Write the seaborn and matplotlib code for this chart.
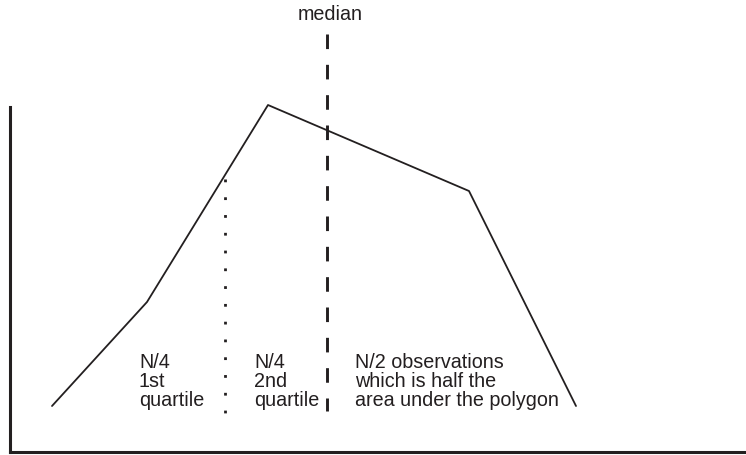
import matplotlib
matplotlib.use("Agg")
import matplotlib.pyplot as plt
import seaborn as sns
import pandas as pd

# frequency polygon (class mark, frequency) in chart units
poly_x = [42, 137, 258, 459, 566]
poly_y = [46, 150, 347, 261, 46]

# quartile / median markers (drawn top to bottom)
q1_x, q1_span = 215, [273, 35]
median_x, median_span = 317, [418, 41]

labels = ["N/4\n1st\nquartile", "N/4\n2nd\nquartile",
          "N/2 observations\nwhich is half the\narea under the polygon"]
label_x = [129, 244, 345]
label_top = 100

ink = "#231f20"

sns.set_style("white")
plt.rcParams['font.family'] = ['Liberation Sans', 'DejaVu Sans']

fig = plt.figure(figsize=(7.46, 4.56), dpi=100)
ax = fig.add_axes([10 / 746, 3 / 456, 736 / 746, 345 / 456])

df = pd.DataFrame({"x": poly_x, "y": poly_y})
sns.lineplot(data=df, x="x", y="y", sort=False, color=ink, lw=1.3, ax=ax, clip_on=False)

ax.plot([q1_x, q1_x], q1_span, color=ink, lw=2, linestyle=(0, (1, 5.4)), clip_on=False)
ax.plot([median_x, median_x], median_span, color=ink, lw=2.1, linestyle=(0, (5, 5.4)), clip_on=False)
ax.text(median_x + 3, 439, "median", ha="center", va="center", fontsize=14.2, color=ink, clip_on=False)

for x, s in zip(label_x, labels):
    ax.text(x, label_top, s, ha="left", va="top", fontsize=14.2, color=ink, linespacing=1.0)

ax.set_xlim(0, 736)
ax.set_ylim(0, 345)
ax.set_xticks([])
ax.set_yticks([])
ax.set_xlabel("")
ax.set_ylabel("")
for side in ["top", "right"]:
    ax.spines[side].set_visible(False)
for side in ["left", "bottom"]:
    ax.spines[side].set_color(ink)
    ax.spines[side].set_linewidth(2.2)

fig.savefig("out.png", dpi=100)
